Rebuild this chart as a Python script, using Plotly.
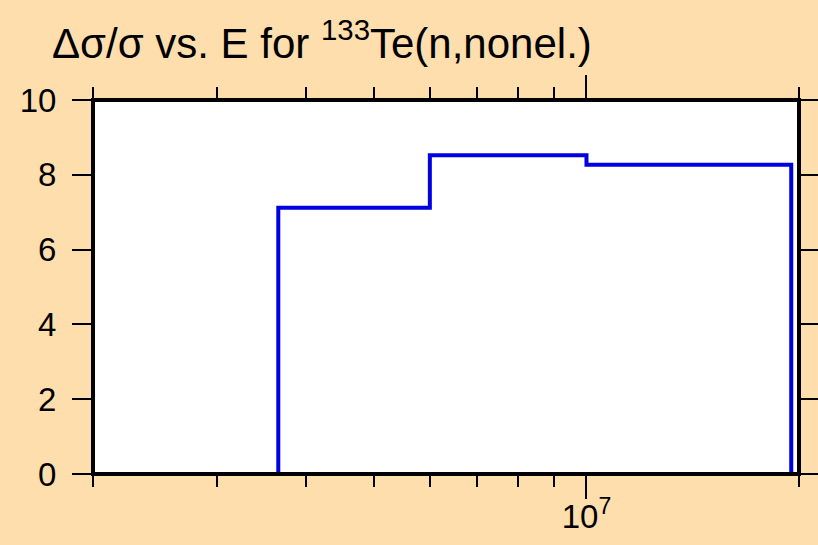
import plotly.graph_objects as go

# Bin edges (eV) and relative uncertainty values (%)
bin_edges = [3.66e6, 6.0e6, 1.0e7, 1.95e7]
rel_unc = [7.12, 8.52, 8.27]

x_minor_ticks = [2e6, 3e6, 4e6, 5e6, 6e6, 7e6, 8e6, 9e6, 2e7]
x_major_ticks = [1e7]
x_major_labels = ["10<sup>7</sup>"]
y_ticks = [0, 2, 4, 6, 8, 10]

# Build step outline from edges/values
xs = [bin_edges[0]]
ys = [0]
for i, v in enumerate(rel_unc):
    xs += [bin_edges[i], bin_edges[i + 1]]
    ys += [v, v]
xs.append(bin_edges[-1])
ys.append(0)

fig = go.Figure()
fig.add_trace(go.Scatter(x=xs, y=ys, mode="lines",
                         line=dict(color="#0000E0", width=4),
                         showlegend=False, hoverinfo="skip"))

FONT = "Liberation Sans, Arial, sans-serif"

fig.update_layout(
    width=818, height=545,
    paper_bgcolor="#FFDEAD",
    plot_bgcolor="white",
    margin=dict(l=93, r=19, t=100, b=71, autoexpand=False),
    font=dict(family=FONT, size=33, color="black"),
    title=dict(text="Δσ/σ vs. E for <sup>133</sup>Te(n,nonel.)",
               x=52 / 818, xref="container", xanchor="left",
               y=1 - 43 / 545, yref="container", yanchor="middle",
               font=dict(family=FONT, size=42, color="black")),
    xaxis=dict(type="log", range=[6.30103, 7.30103], automargin=False,
               tickvals=x_major_ticks, ticktext=x_major_labels,
               ticks="outside", ticklen=24, tickwidth=2, tickcolor="black",
               mirror="ticks", showgrid=False, zeroline=False, showline=False,
               ticklabelstandoff=-11,
               minor=dict(tickvals=x_minor_ticks, ticks="outside", ticklen=12,
                          tickwidth=2, tickcolor="black", showgrid=False),
               tickfont=dict(family=FONT, size=33)),
    yaxis=dict(range=[0, 10], tickvals=y_ticks, automargin=False,
               ticks="outside", ticklen=20, tickwidth=2, tickcolor="black",
               mirror="ticks", showgrid=False, zeroline=False, showline=False,
               ticklabelstandoff=9,
               tickfont=dict(family=FONT, size=33)),
    shapes=[dict(type="rect", xref="paper", yref="paper", x0=0, x1=1, y0=0, y1=1,
                 line=dict(color="black", width=4), layer="above")],
)

fig.write_html("out.html", config={"displayModeBar": False},
               post_script="document.body.style.margin='0';document.body.style.overflow='hidden';")
